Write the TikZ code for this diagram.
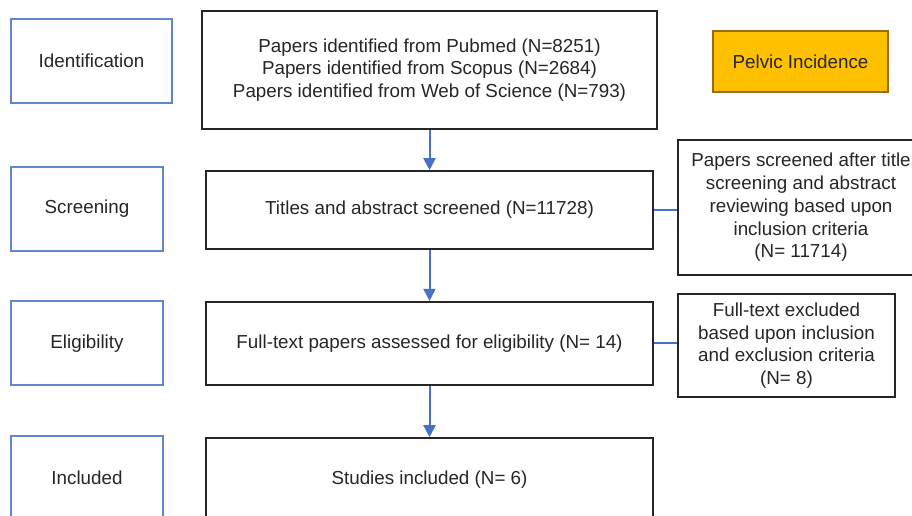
\documentclass[tikz,border=0pt]{standalone}
\usepackage{fontspec}
\setmainfont{Liberation Sans}
\usetikzlibrary{arrows.meta,positioning}

\definecolor{stageblue}{HTML}{4472C4}
\definecolor{pelvicfill}{HTML}{FFC000}
\definecolor{pelvicline}{HTML}{9C6A10}
\definecolor{textgray}{HTML}{262626}

\begin{document}
\begin{tikzpicture}[
		x=1pt, y=-1pt,
		every node/.style={font=\fontsize{18.8}{22.7}\selectfont, text=textgray, align=center, inner sep=0pt},
		stagebox/.style={rectangle, draw=stageblue!85, line width=1.7pt, minimum width=152pt, minimum height=84pt},
		flowbox/.style={rectangle, draw=black!85, line width=1.6pt},
		sidebox/.style={rectangle, draw=black!85, line width=1.5pt},
		flowarrow/.style={draw=stageblue, line width=2pt, -{Triangle[width=12pt,length=12pt]}},
		sideline/.style={draw=stageblue, line width=1.9pt}
		]
		\clip (0,0) rectangle (912,516);
		\fill[white] (0,0) rectangle (912,516);

		% stage labels on the left
		\node[stagebox, minimum width=161pt](ident) at (91.5,61){Identification};
		\node[stagebox](screen) at (87,209){Screening};
		\node[stagebox](elig) at (87,343.3){Eligibility};
		\node[stagebox](incl) at (87,478){Included};

		% main flow
		\node[flowbox, minimum width=455pt, minimum height=118pt](found) at (429.5,70){Papers identified from Pubmed (N=8251)\\Papers identified from Scopus (N=2684)\\Papers identified from Web of Science (N=793)};
		\node[flowbox, minimum width=447pt, minimum height=78pt](titles) at (429.5,210){Titles and abstract screened (N=11728)};
		\node[flowbox, minimum width=447pt, minimum height=83pt](fulltext) at (429.5,343.2){Full-text papers assessed for eligibility (N= 14)};
		\node[flowbox, minimum width=447pt, minimum height=84pt](studies) at (429.5,480){Studies included (N= 6)};

		% right column
		\node[rectangle, draw=pelvicline, fill=pelvicfill, line width=1.3pt, minimum width=175pt, minimum height=61pt](pelvic) at (800.5,61.5){Pelvic Incidence};
		\node[sidebox, minimum width=246pt, minimum height=135pt](screened) at (801,207.5){Papers screened after title\\screening and abstract\\reviewing based upon\\inclusion criteria\\(N= 11714)};
		\node[sidebox, minimum width=217pt, minimum height=103pt](excluded) at (786.5,345.5){Full-text excluded\\based upon inclusion\\and exclusion criteria\\(N= 8)};

		\draw[flowarrow] (found) -- (titles);
		\draw[flowarrow] (titles) -- (fulltext);
		\draw[flowarrow] (fulltext) -- (studies);
		\draw[sideline] (titles.east) -- (titles.east -| screened.west);
		\draw[sideline] (fulltext.east) -- (fulltext.east -| excluded.west);
	\end{tikzpicture}
\end{document}
